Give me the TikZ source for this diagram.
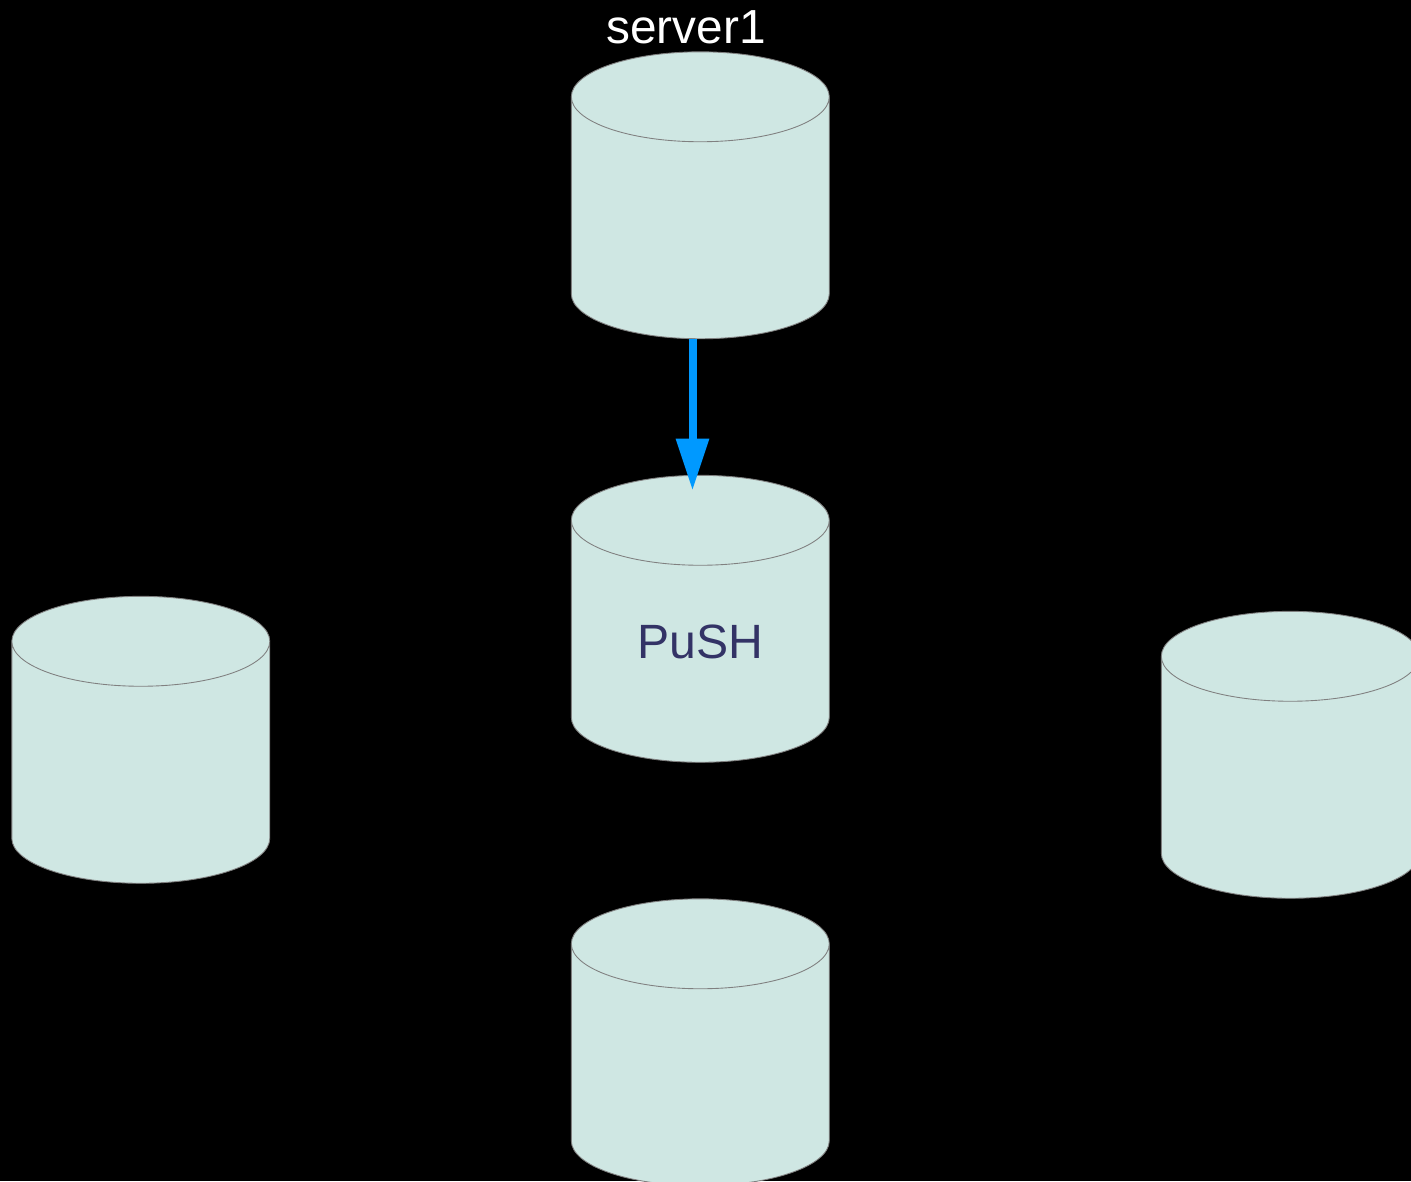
\documentclass[tikz,border=0pt]{standalone}
\usepackage{fontspec}
\setmainfont{Liberation Sans}
\usetikzlibrary{shapes.geometric, arrows.meta}
\definecolor{drumfill}{HTML}{CFE7E3}
\definecolor{drumline}{HTML}{808080}
\definecolor{pushtext}{HTML}{333366}
\definecolor{flowblue}{HTML}{0099FF}

\begin{document}
\begin{tikzpicture}[x=0.02cm, y=-0.02cm,
        drum/.style = {cylinder, shape border rotate=90, shape aspect=0.715, draw=drumline, fill=drumfill, line width=0.5pt, minimum width=5.16cm, minimum height=5.74cm, inner sep=0pt, outer sep=0pt, text=pushtext, font=\fontsize{27.4}{27.4}\selectfont},
        title/.style = {text=white, inner sep=0pt, font=\fontsize{27.2}{27.2}\selectfont},
        flow/.style = {draw=flowblue, line width=0.16cm, -{Triangle[length=1.04cm, width=0.63cm]}}]
                \fill[black] (0,0) rectangle (1411,1181);
                \useasboundingbox (0,0) rectangle (1411,1181);
                \clip (0,0) rectangle (1411,1181);

                \node[drum] (server1) at (700.3, 218) {\phantom{PuSH}};
                \node[drum] (push) at (700.3, 641.5) {PuSH};
                \node[drum] (peerleft) at (140.8, 762.5) {\phantom{PuSH}};
                \node[drum] (peerright) at (1290.3, 777.5) {\phantom{PuSH}};
                \node[drum] (peerbottom) at (700.3, 1065) {\phantom{PuSH}};

                \node[title] (server1label) at (686.2, 27) {server1};

                \coordinate (pushtip) at (692.5, 490.5);
                \draw[flow] (pushtip |- server1.south) -- (pushtip);
            \end{tikzpicture}
\end{document}
